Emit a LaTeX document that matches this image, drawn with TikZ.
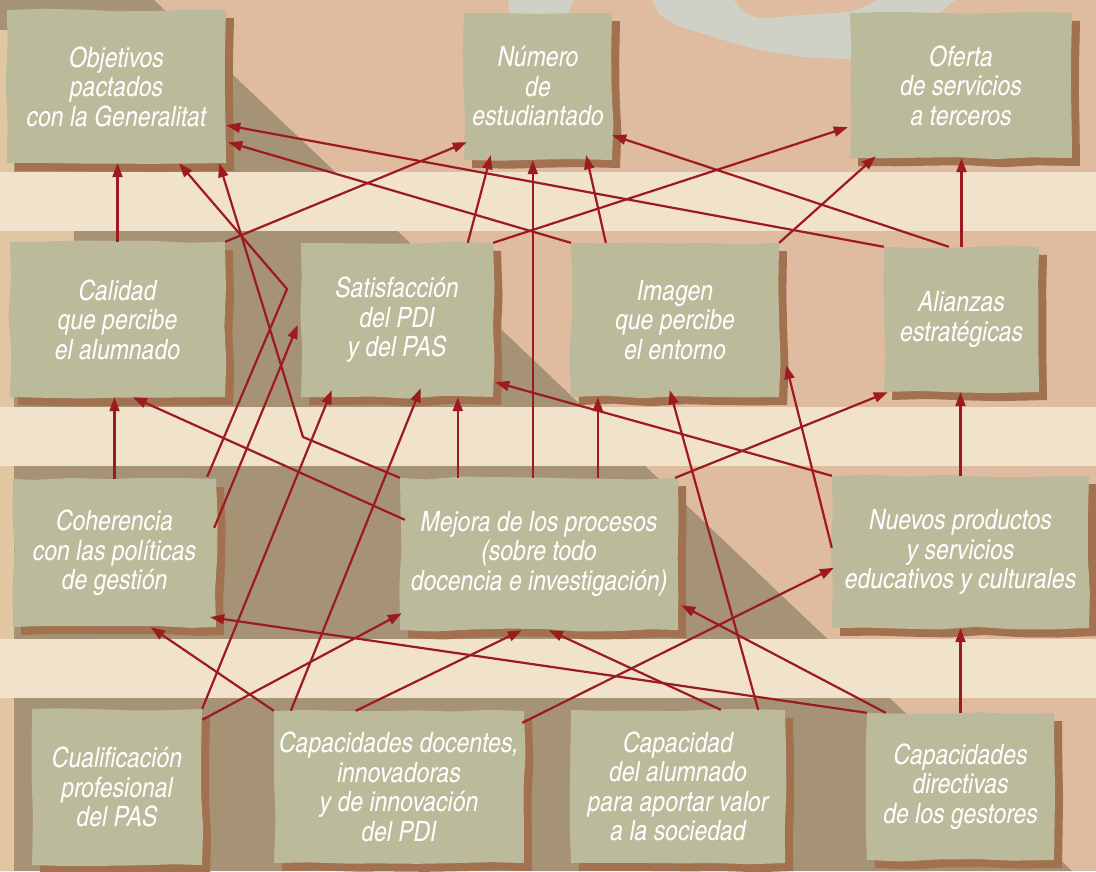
\documentclass[tikz,border=0pt]{standalone}
\usepackage{fontspec}
\newfontfamily\boxfont{texgyreheroscn-italic.otf}
\usetikzlibrary{arrows.meta, calc, shadows, decorations.pathmorphing}
\definecolor{cpeach}{HTML}{DFBBA0}
\definecolor{ctaupe}{HTML}{A69376}
\definecolor{ctan}{HTML}{E2C6A2}
\definecolor{ccream}{HTML}{F1E2CC}
\definecolor{cgrey}{HTML}{CFD0C6}
\definecolor{csage}{HTML}{BBBA9B}
\definecolor{cbrown}{HTML}{A2714F}
\definecolor{cred}{HTML}{9C1A20}
\pgfmathsetseed{11}
\tikzset{
  box/.style 2 args={fill=csage, text=white, align=center, inner sep=0pt,
    minimum width=#1pt, minimum height=#2pt,
    font=\boxfont\fontsize{28}{29.5}\selectfont,
    decorate, decoration={random steps, segment length=36pt, amplitude=1.6pt},
    general shadow={fill=cbrown, shadow xshift=8pt, shadow yshift=-8pt}},
  link/.style={-{Triangle[length=14pt, width=10pt]}, draw=cred, line width=2.2pt},
  band/.style={fill=ccream},
}

\begin{document}
\begin{tikzpicture}[x=1pt, y=-1pt]
  \useasboundingbox (0,0) rectangle (1096,871);
  \fill[cpeach] (0,0) rectangle (1096,871);
  \fill[ctaupe] (0,0) -- (154,0) -- (1072,871) -- (0,871) -- cycle;
  \fill[ctan] (0,30) rectangle (14,871);
  \fill[ctan] (0,231) rectangle (74,250);
  \fill[cgrey] (508,0) -- (573,0) -- (566,20) -- (511,20) -- cycle;
  \fill[cgrey, rounded corners=10pt] (650,-5) -- (657,13) -- (672,24) -- (700,33) -- (750,48) -- (801,57) -- (870,60) -- (930,20) -- (962,-5) -- (889,-5) -- (853,12) -- (801,15) -- (757,19) -- (741,10) -- (731,-5) -- cycle;
  \fill[band] (0,172) rectangle (1096,231);
  \fill[band] (0,407) rectangle (1096,466);
  \fill[band] (0,639) rectangle (1096,698);

  \node[box={219}{153}] (obj) at (116.5,86.5) {Objetivos\\pactados\\con la Generalitat};
  \node[box={148}{147}] (num) at (538,86.5) {Número\\de\\estudiantado};
  \node[box={222}{145}] (ofe) at (961,85.5) {Oferta\\de servicios\\a terceros};
  \node[box={215}{155}] (cal) at (117.5,319.5) {Calidad\\que percibe\\el alumnado};
  \node[box={192}{154}] (sat) at (397,320) {Satisfacción\\del PDI\\y del PAS};
  \node[box={208}{154}] (ima) at (675,320) {Imagen\\que percibe\\el entorno};
  \node[box={155}{145}] (ali) at (961.5,319.5) {Alianzas\\estratégicas};
  \node[box={203}{148}] (coh) at (114.5,553) {Coherencia\\con las políticas\\de gestión};
  \node[box={278}{152}] (mej) at (539,554) {Mejora de los procesos\\(sobre todo\\docencia e investigación)};
  \node[box={257}{152}] (nue) at (960.5,552) {Nuevos productos\\y servicios\\educativos y culturales};
  \node[box={170}{156}] (cua) at (117,787) {Cualificación\\profesional\\del PAS};
  \node[box={250}{152}] (doc) at (399,787) {Capacidades docentes,\\innovadoras\\y de innovación\\del PDI};
  \node[box={214}{153}] (alu) at (678,786.5) {Capacidad\\del alumnado\\para aportar valor\\a la sociedad};
  \node[box={187}{147}] (dir) at (960.5,786.5) {Capacidades\\directivas\\de los gestores};

  \coordinate (k1) at (287,289);
  \coordinate (k2) at (303,437);

  \draw[link] (cal.north) -- (cal.north |- obj.south);
  \draw[link] (ali.north) -- (ali.north |- ofe.south);
  \draw[link] (coh.north) -- (coh.north |- cal.south);
  \draw[link] (nue.north) -- (nue.north |- ali.south);
  \draw[link] (dir.north) -- (dir.north |- nue.south);
  \draw[link] ($(mej.north west)+(58,0)$) -- ($(mej.north west |- sat.south)+(58,0)$);
  \draw[link] ($(mej.north west)+(133,0)$) -- ($(mej.north west |- num.south)+(133,0)$);
  \draw[link] ($(mej.north west)+(198,0)$) -- ($(mej.north west |- ima.south)+(198,0)$);

  \draw[link] ($(coh.north east)+(-9,-2)$) -- (k1) -- ($(obj.south)+(62.5,0)$);
  \draw[link] (mej.north west) -- (k2) -- ($(obj.south east)+(-7,0)$);
  \draw[link] (ima.north west) -- ($(obj.south east)+(2,-21)$);
  \draw[link] (ali.north west) -- ($(obj.south east)+(0,-38)$);
  \draw[link] (cal.north east) -- ($(num.south west)+(3,-18)$);
  \draw[link] ($(sat.north west)+(167,0)$) -- ($(num.south west)+(27,-5)$);
  \draw[link] ($(ima.north west)+(35,0)$) -- ($(num.south east)+(-26,-5)$);
  \draw[link] ($(ali.north west)+(65,0)$) -- ($(num.south east)+(0,-25)$);
  \draw[link] (sat.north east) -- ($(ofe.south west)+(-2,-31)$);
  \draw[link] (ima.north east) -- ($(ofe.south west)+(26,-2)$);
  \draw[link] ($(mej.north west)+(5,42)$) -- ($(cal.south west)+(123,0)$);
  \draw[link] ($(coh.north east)+(-2,49)$) -- ($(sat.north west)+(-3,82)$);
  \draw[link] (cua.north east) -- ($(sat.south west)+(31,-7)$);
  \draw[link] ($(doc.north west)+(17,0)$) -- ($(sat.south west)+(120,-9)$);
  \draw[link] (nue.north west) -- ($(sat.south east)+(2,-15)$);
  \draw[link] ($(alu.north east)+(-27,0)$) -- ($(ima.south west)+(99,-7)$);
  \draw[link] ($(nue.north west)+(0,72)$) -- ($(ima.south east)+(7,-32)$);
  \draw[link] ($(mej.north east)+(-3,0)$) -- ($(ali.south west)+(4,0)$);
  \draw[link] (doc.north west) -- ($(coh.south west)+(138,0)$);
  \draw[link] (dir.north west) -- ($(coh.south east)+(-6,-10)$);
  \draw[link] ($(cua.north east)+(0,11)$) -- ($(mej.south west)+(2,-17)$);
  \draw[link] ($(doc.north west)+(82,0)$) -- ($(mej.south west)+(122,0)$);
  \draw[link] ($(alu.north west)+(150,0)$) -- ($(mej.south west)+(149,0)$);
  \draw[link] ($(dir.north west)+(19,0)$) -- ($(mej.south east)+(3,-25)$);
  \draw[link] ($(doc.north east)+(-2,12)$) -- ($(nue.north west)+(2,92)$);
\end{tikzpicture}
\end{document}
